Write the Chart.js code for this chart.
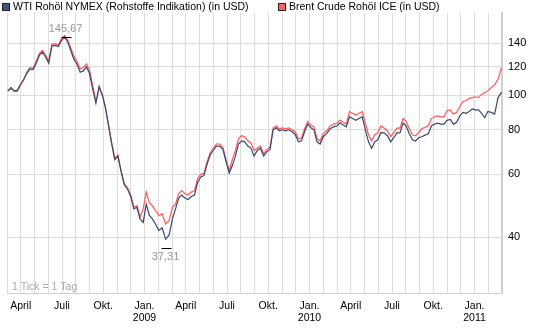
<!DOCTYPE html>
<html>
<head>
<meta charset="utf-8">
<script src="https://cdn.jsdelivr.net/npm/chart.js@4.4.1/dist/chart.umd.min.js"></script>
<style>
  html, body { margin: 0; padding: 0; background: #fff; }
</style>
</head>
<body>
<canvas id="oilChart" width="545" height="330"></canvas>
<script>
// weekly values, first week = Mon 3 March 2008
const firstWeek = '2008-03-03';

const wtiValues = [
  103, 105, 103, 103, 107, 110.5, 115, 118.5, 118, 123,
  129.5, 132, 128, 123, 137.5, 138, 137, 142.5, 145.5, 141,
  133, 126, 122, 116, 117, 120, 115, 104, 95, 106,
  100, 92, 82, 73, 66, 67.5, 61, 56, 54.5, 52,
  48, 48.5, 45, 44, 49.5, 46, 45, 43.5, 41.8, 42.5,
  39.5, 40.5, 45, 48, 51.5, 52.5, 51.5, 51, 52, 52.5,
  57, 59, 59.5, 64, 68, 70, 72, 72, 70.5, 65,
  60.5, 63.5, 67.5, 73, 74.5, 74, 72, 71, 67.5, 70,
  71, 67.5, 69.5, 70.5, 80, 81, 79.5, 80, 79.5, 80,
  79, 77.5, 74, 74.5, 79, 83, 81, 80, 74, 73,
  76.5, 78, 80.5, 81.5, 82, 83.7, 82.5, 81.5, 87, 86,
  85, 86, 87, 80, 74, 71, 74, 75, 78.5, 78.4,
  77, 74, 76, 78.4, 78.4, 83.5, 82, 78, 75, 74.4,
  76, 76.5, 77.3, 78, 82, 83, 83.5, 83, 83, 85,
  85.5, 83, 84, 87.5, 89.5, 89, 90, 91.5, 91, 91,
  89, 86.5, 90, 89.5, 88.5, 98.5, 102
];

const brentValues = [
  102.5, 104.5, 102.5, 102.5, 106.5, 110, 116, 119.5, 119, 124.5,
  131, 133.5, 129.5, 124.5, 139, 139.5, 138.5, 144, 147, 142.5,
  135.5, 128.5, 124.5, 118.5, 119.5, 122.5, 117.5, 106.5, 96, 104.5,
  100.5, 92.5, 82.5, 73.5, 66.5, 68, 61.5, 56.5, 55, 52.5,
  48.5, 49, 45.5, 48, 53.5, 50, 49, 47.5, 46, 46.5,
  43.5, 44.5, 48.5, 49.5, 53, 54, 53, 52.5, 53.5, 54,
  58.5, 60, 60.5, 65, 69, 71, 73, 73, 71.5, 66,
  61.5, 66, 70, 75.5, 77, 76.5, 74.5, 73.5, 70, 71,
  72, 68.5, 70.5, 71.5, 81, 82, 80.5, 81, 80.5, 81,
  80, 79, 75.5, 76, 80.5, 84.5, 82.5, 81.5, 75.5, 74.5,
  78, 79.5, 82, 83, 83.5, 85.2, 84, 83, 90, 89,
  88, 89, 90, 83.5, 77.5, 74.5, 77.5, 78.5, 82, 80.9,
  79.5, 76.5, 78.5, 80.9, 80.9, 86, 84.5, 80.5, 77.5, 76.9,
  78.5, 80.5, 81.3, 82, 86, 87, 87.5, 87, 87, 90.5,
  91, 88.5, 89.5, 93, 96, 96.5, 98, 98.5, 99, 98.5,
  100.5, 101.5, 103, 105, 107, 111, 119.5
];

const seriesNames = ['WTI Rohöl NYMEX (Rohstoffe Indikation) (in USD)', 'Brent Crude Rohöl ICE (in USD)'];
const seriesColors = ['#3a4970', '#ff5757'];
const boxColors = ['#3f5488', '#ff6464'];

const monthLabels = { 0: 'Jan.', 3: 'April', 6: 'Juli', 9: 'Okt.' };
const yTicks = [40, 60, 80, 100, 120, 140];

const wtiHigh = { date: '2008-07-11', value: 145.67, text: '145,67' };
const wtiLow = { date: '2009-02-17', value: 37.31, text: '37,31' };
const tickNote = '1 Tick = 1 Tag';

const font = 'Liberation Sans, Arial, sans-serif';

// months since 1 March 2008 (fractional)
function monthPos(d) {
  const y = d.getUTCFullYear(), m = d.getUTCMonth(), day = d.getUTCDate();
  const dim = new Date(Date.UTC(y, m + 1, 0)).getUTCDate();
  return (y - 2008) * 12 + (m - 2) + (day - 1) / dim;
}
function weekPos(i) {
  const d = new Date(firstWeek + 'T00:00:00Z');
  d.setUTCDate(d.getUTCDate() + 7 * i);
  return monthPos(d);
}
function datePos(s) { return monthPos(new Date(s + 'T00:00:00Z')); }

const wtiPoints = wtiValues.map((v, i) => ({ x: weekPos(i), y: v }));
const brentPoints = brentValues.map((v, i) => ({ x: weekPos(i), y: v }));

const extras = {
  id: 'extras',
  afterDatasetsDraw(chart) {
    const { ctx, scales: { x, y }, chartArea } = chart;
    ctx.save();
    // high / low markers
    [[wtiHigh, -1], [wtiLow, 1]].forEach(([p, dir]) => {
      const px = Math.round(x.getPixelForValue(datePos(p.date))) + 0.5;
      const py = Math.round(y.getPixelForValue(p.value)) + 0.5;
      ctx.strokeStyle = '#000';
      ctx.lineWidth = 1;
      ctx.beginPath();
      ctx.moveTo(px - 5, py); ctx.lineTo(px + 5, py);
      ctx.stroke();
      ctx.fillStyle = '#999';
      ctx.font = '11px ' + font;
      ctx.textAlign = 'center';
      ctx.textBaseline = dir < 0 ? 'bottom' : 'top';
      ctx.fillText(p.text, px - 1, py + dir * 3);
    });
    ctx.fillStyle = '#aaa';
    ctx.font = '10.5px ' + font;
    ctx.textAlign = 'left';
    ctx.textBaseline = 'alphabetic';
    ctx.fillText(tickNote, chartArea.left + 5, chartArea.bottom - 3);
    ctx.restore();
  },
  afterDraw(chart) {
    const { ctx } = chart;
    ctx.save();
    ctx.font = '10.5px ' + font;
    ctx.textBaseline = 'middle';
    ctx.textAlign = 'left';
    const drawItem = (bx, by, i) => {
      ctx.fillStyle = boxColors[i];
      ctx.fillRect(bx, by, 8, 8);
      ctx.strokeStyle = '#222';
      ctx.lineWidth = 1;
      ctx.strokeRect(bx + 0.5, by + 0.5, 7, 7);
      ctx.fillStyle = '#000';
      ctx.fillText(seriesNames[i], bx + 11, by + 4.5);
    };
    drawItem(2, 3, 0);
    drawItem(278, 3, 1);
    // repeated legend row, cut off by the bottom edge
    drawItem(2, 331, 0);
    ctx.restore();
  }
};

new Chart(document.getElementById('oilChart'), {
  type: 'line',
  data: {
    datasets: [
      { label: seriesNames[0], data: wtiPoints, borderColor: seriesColors[0], borderWidth: 1.2, pointRadius: 0, tension: 0 },
      { label: seriesNames[1], data: brentPoints, borderColor: seriesColors[1], borderWidth: 1.2, pointRadius: 0, tension: 0 }
    ]
  },
  options: {
    responsive: false,
    animation: false,
    layout: { padding: { top: 13, left: 2, right: 0, bottom: 0 } },
    plugins: { legend: { display: false }, tooltip: { enabled: false } },
    scales: {
      x: {
        type: 'linear', min: 0, max: 36,
        afterBuildTicks: axis => {
          axis.ticks = [];
          for (let m = 0; m <= 36; m++) axis.ticks.push({ value: m });
        },
        ticks: {
          autoSkip: false, maxRotation: 0, padding: 7, color: '#000',
          font: { family: font, size: 10.5, lineHeight: 1.15 },
          callback: v => {
            const cal = (v + 2) % 12;
            const year = 2008 + Math.floor((v + 2) / 12);
            if (!(cal in monthLabels)) return '';
            return cal === 0 ? [monthLabels[cal], String(year)] : monthLabels[cal];
          }
        },
        grid: { color: '#dcdcdc', drawTicks: false },
        border: { color: '#cfcfcf' },
        afterFit: axis => { axis.height = 37; }
      },
      y: {
        type: 'logarithmic', position: 'right', min: 27.9, max: 170,
        afterBuildTicks: axis => { axis.ticks = yTicks.map(v => ({ value: v })); },
        ticks: { padding: 6, color: '#000', font: { family: font, size: 11 }, callback: v => String(v) },
        grid: { color: '#dcdcdc', drawTicks: false },
        border: { color: '#cfcfcf', width: 2 },
        afterFit: axis => { axis.width = 43; }
      }
    }
  },
  plugins: [extras]
});
</script>
</body>
</html>
